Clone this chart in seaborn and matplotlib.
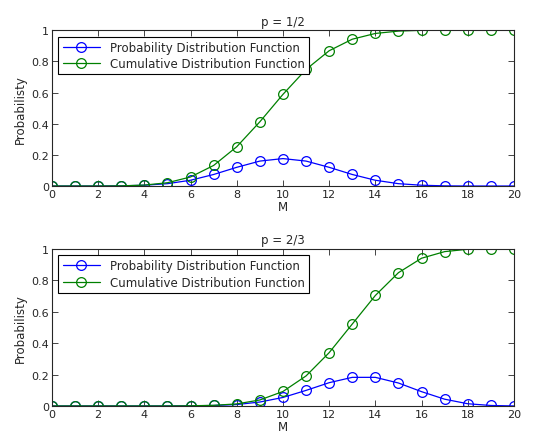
import matplotlib
matplotlib.use("Agg")
import matplotlib.pyplot as plt
import seaborn as sns
import pandas as pd

# number of successes M = 0..20
m_values = list(range(21))

# p = 1/2
pdf_half = [0.000, 0.000, 0.000, 0.001, 0.005, 0.015, 0.037, 0.074, 0.120, 0.160, 0.176,
            0.160, 0.120, 0.074, 0.037, 0.015, 0.005, 0.001, 0.000, 0.000, 0.000]
cdf_half = [0.000, 0.000, 0.000, 0.001, 0.006, 0.021, 0.058, 0.132, 0.252, 0.412, 0.588,
            0.748, 0.868, 0.942, 0.979, 0.994, 0.999, 1.000, 1.000, 1.000, 1.000]

# p = 2/3
pdf_two_thirds = [0.000, 0.000, 0.000, 0.000, 0.000, 0.000, 0.001, 0.003, 0.009, 0.025, 0.054,
                  0.099, 0.148, 0.182, 0.182, 0.146, 0.091, 0.043, 0.014, 0.003, 0.000]
cdf_two_thirds = [0.000, 0.000, 0.000, 0.000, 0.000, 0.000, 0.001, 0.004, 0.013, 0.038, 0.092,
                  0.191, 0.339, 0.521, 0.703, 0.848, 0.940, 0.982, 0.997, 1.000, 1.000]

titles = ["p = 1/2", "p = 2/3"]
series = [(pdf_half, cdf_half), (pdf_two_thirds, cdf_two_thirds)]

sns.set_style("ticks")
plt.rcParams["font.family"] = ["DejaVu Sans"]

fig = plt.figure(figsize=(5.41, 4.39), dpi=100)
positions = [[0.096, 0.574, 0.854, 0.355], [0.096, 0.073, 0.854, 0.358]]

for pos, title, (pdf, cdf) in zip(positions, titles, series):
    ax = fig.add_axes(pos)
    df = pd.DataFrame({"M": m_values, "pdf": pdf, "cdf": cdf})
    sns.lineplot(data=df, x="M", y="pdf", ax=ax, color="#0000ff", lw=0.9,
                 marker="o", markersize=7, markerfacecolor="none",
                 markeredgecolor="#0000ff", markeredgewidth=0.9,
                 label="Probability Distribution Function")
    sns.lineplot(data=df, x="M", y="cdf", ax=ax, color="#008000", lw=0.9,
                 marker="o", markersize=7, markerfacecolor="none",
                 markeredgecolor="#008000", markeredgewidth=0.9,
                 label="Cumulative Distribution Function")
    ax.set_xlim(0, 20)
    ax.set_ylim(0, 1)
    ax.set_xticks(range(0, 21, 2))
    ax.set_yticks([0, 0.2, 0.4, 0.6, 0.8, 1])
    ax.set_yticklabels(["0", "0.2", "0.4", "0.6", "0.8", "1"])
    ax.tick_params(direction="in", top=True, right=True, labelsize=8, length=4,
                   width=0.6, pad=2)
    for s in ax.spines.values():
        s.set_linewidth(0.8)
    ax.set_title(title, fontsize=8.5, pad=4)
    ax.set_xlabel("M", fontsize=8.5, labelpad=1)
    ax.set_ylabel("Probabilisty", fontsize=8.5, labelpad=3)
    leg = ax.legend(loc="upper left", fontsize=8.5, frameon=True, fancybox=False,
                    edgecolor="black", framealpha=1, borderpad=0.35,
                    handlelength=3.2, labelspacing=0.3, borderaxespad=0.55)
    leg.get_frame().set_linewidth(0.8)

fig.savefig("out.png", dpi=100)
